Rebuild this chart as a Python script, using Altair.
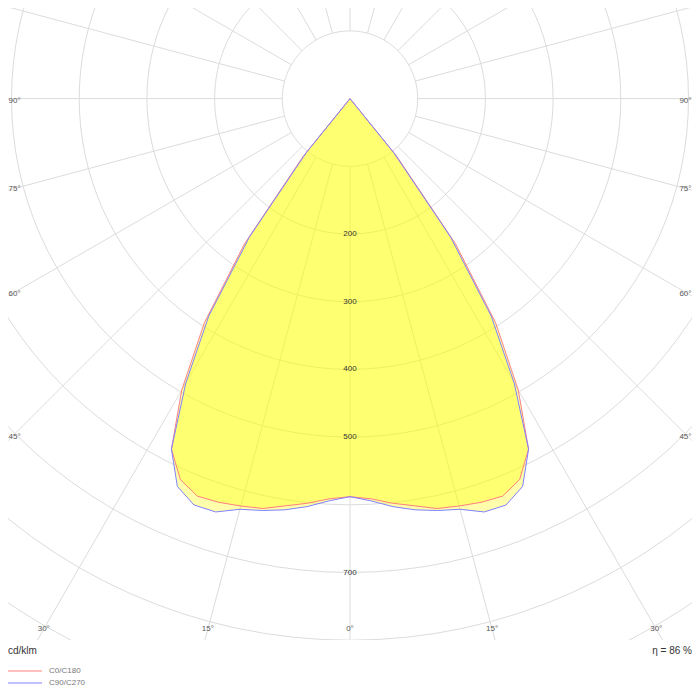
import math
import altair as alt
import pandas as pd

# ---- data (cd/klm every 3 degrees, symmetric curves) ----
GAMMA = [0, 3, 6, 9, 12, 15, 18, 21, 24, 27, 30, 33, 36, 39, 42, 45]
C0_C180 = [588, 592, 601, 609, 619, 623, 627, 629, 616, 581, 497, 395, 265, 110, 0, 0]
C90_C270 = [588, 595, 606, 615, 622, 628, 642, 643, 627, 581, 485, 383, 253, 102, 0, 0]
SERIES = ["C0/C180", "C90/C270"]
LINE_COLORS = ["#ff8080", "#8080ff"]
LEGEND_COLORS = ["#ffc0c0", "#c0c0ff"]
RING_VALUES = [100, 200, 300, 400, 500, 600, 700, 800, 900, 1000]
RING_LABELS = [200, 300, 400, 500, 700]
SPOKE_ANGLES = list(range(0, 360, 15))
ANGLE_LABELS = [0, 15, 30, 45, 60, 75, 90]
UNIT = "cd/klm"
EFFICIENCY = "η = 86 %"

# ---- layout (chart coordinates == page coordinates, thanks to -8 padding) ----
W, H = 700, 640
CX, CY = 350.0, 98.6
K = 0.677  # px per cd/klm
XD = [-CX / K, (W - CX) / K]
YD = [(CY - H) / K, CY / K]
FONT = "Liberation Sans"

def xe():
    return alt.X("x:Q", scale=alt.Scale(domain=XD, nice=False, zero=False), axis=None)

def ye():
    return alt.Y("y:Q", scale=alt.Scale(domain=YD, nice=False, zero=False), axis=None)

calc = dict(x="datum.r * sin(datum.g * PI / 180)", y="-datum.r * cos(datum.g * PI / 180)")

# curves
rows = []
for name, vals in zip(SERIES, [C0_C180, C90_C270]):
    gs = [g for g in reversed(GAMMA)] + [-g for g in GAMMA[1:]]
    rs = [v for v in reversed(vals)] + vals[1:]
    for i, (g, r) in enumerate(zip(gs, rs)):
        rows.append({"series": name, "i": i, "g": g, "r": r})
curve_df = pd.DataFrame(rows)

# rings
ring_rows = []
for rv in RING_VALUES:
    for t in range(0, 361, 3):
        ring_rows.append({"ring": rv, "i": t, "g": t, "r": rv})
ring_df = pd.DataFrame(ring_rows)

# spokes
spoke_df = pd.DataFrame({"a": SPOKE_ANGLES})

# ring labels
ring_lab_df = pd.DataFrame({"r": RING_LABELS, "g": [0] * len(RING_LABELS),
                            "t": [str(v) for v in RING_LABELS]})

# angle labels (placed where each spoke meets an inset rectangle)
bottom_rows, left_rows, right_rows = [], [], []
for a in ANGLE_LABELS:
    s = math.sin(math.radians(a))
    c = math.cos(math.radians(a))
    cands = []
    if s > 1e-9:
        cands.append(((CX - 12) / s, "side"))
    if c > 1e-9:
        cands.append(((629 - CY) / c, "bottom"))
    t, where = min(cands)
    py = t * c + (2 if a == 90 else 0)
    if where == "bottom":
        for side in ([-1, 1] if a != 0 else [1]):
            bottom_rows.append({"x": side * t * s / K, "y": -py / K, "t": f"{a}°"})
    else:
        left_rows.append({"x": (8.5 - CX) / K, "y": -py / K, "t": f"{a}°"})
        right_rows.append({"x": (691.5 - CX) / K, "y": -py / K, "t": f"{a}°"})

rings = alt.Chart(ring_df).transform_calculate(**calc).mark_line(
    clip=True, color="#dcdcdc", strokeWidth=1
).encode(x=xe(), y=ye(), detail="ring:N", order="i:Q")

spokes = alt.Chart(spoke_df).transform_calculate(
    x="100 * sin(datum.a * PI / 180)", y="-100 * cos(datum.a * PI / 180)",
    x2="1100 * sin(datum.a * PI / 180)", y2="-1100 * cos(datum.a * PI / 180)",
).mark_rule(clip=True, color="#dcdcdc", strokeWidth=1).encode(
    x=xe(), y=ye(), x2="x2:Q", y2="y2:Q"
)

fills = alt.Chart(curve_df).transform_calculate(**calc).mark_line(
    interpolate="linear-closed", fill="#ffff00", fillOpacity=0.33, strokeOpacity=0
).encode(x=xe(), y=ye(), detail="series:N", order="i:Q")

lines = alt.Chart(curve_df).transform_calculate(**calc).mark_line(
    interpolate="linear-closed", strokeWidth=1
).encode(
    x=xe(), y=ye(), order="i:Q",
    color=alt.Color("series:N", scale=alt.Scale(domain=SERIES, range=LINE_COLORS), legend=None),
)

ring_labels = alt.Chart(ring_lab_df).transform_calculate(**calc).mark_text(
    font=FONT, fontSize=8, color="#333333", align="center", baseline="middle"
).encode(x=xe(), y=ye(), text="t:N")

def angle_layer(rows_, align):
    return alt.Chart(pd.DataFrame(rows_)).mark_text(
        font=FONT, fontSize=8, color="#555555", align=align, baseline="middle"
    ).encode(x=xe(), y=ye(), text="t:N")

angle_bottom = angle_layer(bottom_rows, "center")
angle_left = angle_layer(left_rows, "left")
angle_right = angle_layer(right_rows, "right")

unit_text = alt.Chart(pd.DataFrame({"t": [UNIT]})).mark_text(
    font=FONT, fontSize=10, color="#333333", align="left", baseline="middle"
).encode(x=alt.value(8), y=alt.value(651), text="t:N")

eff_text = alt.Chart(pd.DataFrame({"t": [EFFICIENCY]})).mark_text(
    font=FONT, fontSize=10, color="#333333", align="right", baseline="middle"
).encode(x=alt.value(692), y=alt.value(651), text="t:N")

leg_df = pd.DataFrame({"series": SERIES, "ypx": [671, 683]})
leg_lines = alt.Chart(leg_df).mark_rule(strokeWidth=2).encode(
    x=alt.value(8), x2=alt.value(42), y=alt.Y("ypx:Q", scale=None),
    color=alt.Color("series:N", scale=alt.Scale(domain=SERIES, range=LEGEND_COLORS), legend=None),
)
leg_text = alt.Chart(leg_df).mark_text(
    font=FONT, fontSize=8, color="#777777", align="left", baseline="middle"
).encode(x=alt.value(49), y=alt.Y("ypx:Q", scale=None), text="series:N")

chart = alt.layer(
    rings, spokes, fills, lines, ring_labels, angle_bottom, angle_left, angle_right,
    unit_text, eff_text, leg_lines, leg_text
).resolve_scale(color="independent").properties(
    width=W, height=H,
    padding={"top": -8, "left": -8, "right": -8, "bottom": 0},
).configure_view(strokeWidth=0)

chart.save("out.html", embed_options={"renderer": "svg", "actions": False})
